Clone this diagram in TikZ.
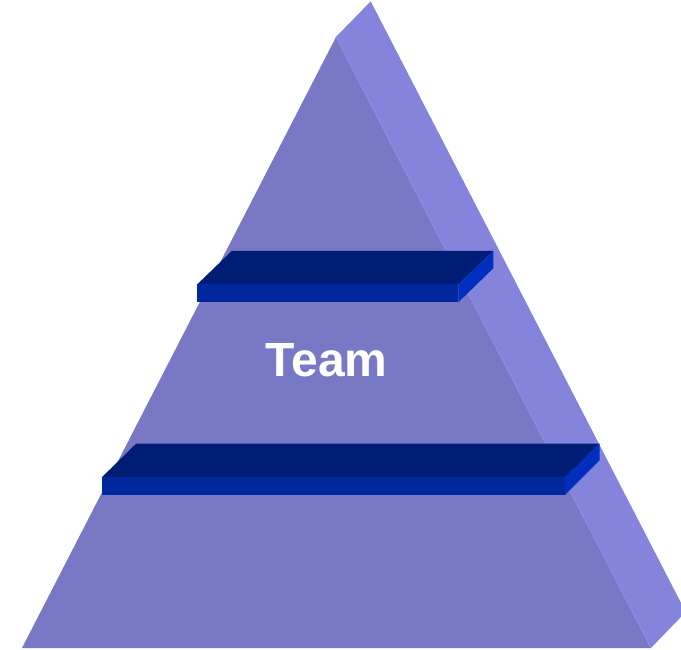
\documentclass[tikz,border=0pt]{standalone}
\usepackage{fontspec}
\setmainfont{Liberation Sans}
\definecolor{frontface}{RGB}{120,120,196}
\definecolor{sideface}{RGB}{132,132,220}
\definecolor{edgelight}{RGB}{140,140,232}
\definecolor{bartop}{RGB}{0,29,118}
\definecolor{barfront}{RGB}{0,40,158}
\definecolor{barside}{RGB}{0,46,190}
\tikzset{
  face/.style={draw=none},
  labeltext/.style={text=white, font=\bfseries\fontsize{48}{48}\selectfont, inner sep=0pt}
}
\begin{document}
\begin{tikzpicture}[x=1pt,y=-1pt]
\useasboundingbox (0,0) rectangle (681,650);
\begin{scope}
\clip (0,0) rectangle (681,650);
% side face
\fill[sideface] (336,37) -- (370.7,1.3) -- (685.7,612) -- (651,648) -- cycle;
% front face
\fill[frontface] (336,37) -- (651,648) -- (22,648) -- cycle;
\draw[edgelight, line width=1pt] (336,37) -- (651,648);
\end{scope}
% upper bar
\fill[bartop] (197.3,284.3) -- (231.7,251) -- (493.3,251) -- (458.3,284.3) -- cycle;
\fill[barfront] (197.3,284.3) rectangle (458.3,302.3);
\fill[barside] (458.3,284.3) -- (493.3,251) -- (493.3,268.3) -- (458.3,302.3) -- cycle;
% lower bar
\fill[bartop] (101.8,477.3) -- (136.3,443.5) -- (599.5,443.5) -- (565,477.3) -- cycle;
\fill[barfront] (101.8,477.3) rectangle (565,495);
\fill[barside] (565,477.3) -- (599.5,443.5) -- (599.5,460.4) -- (565,495) -- cycle;
% label
\node[labeltext, anchor=base] (team) at (326.5,376.7) {Team};
\end{tikzpicture}
\end{document}
